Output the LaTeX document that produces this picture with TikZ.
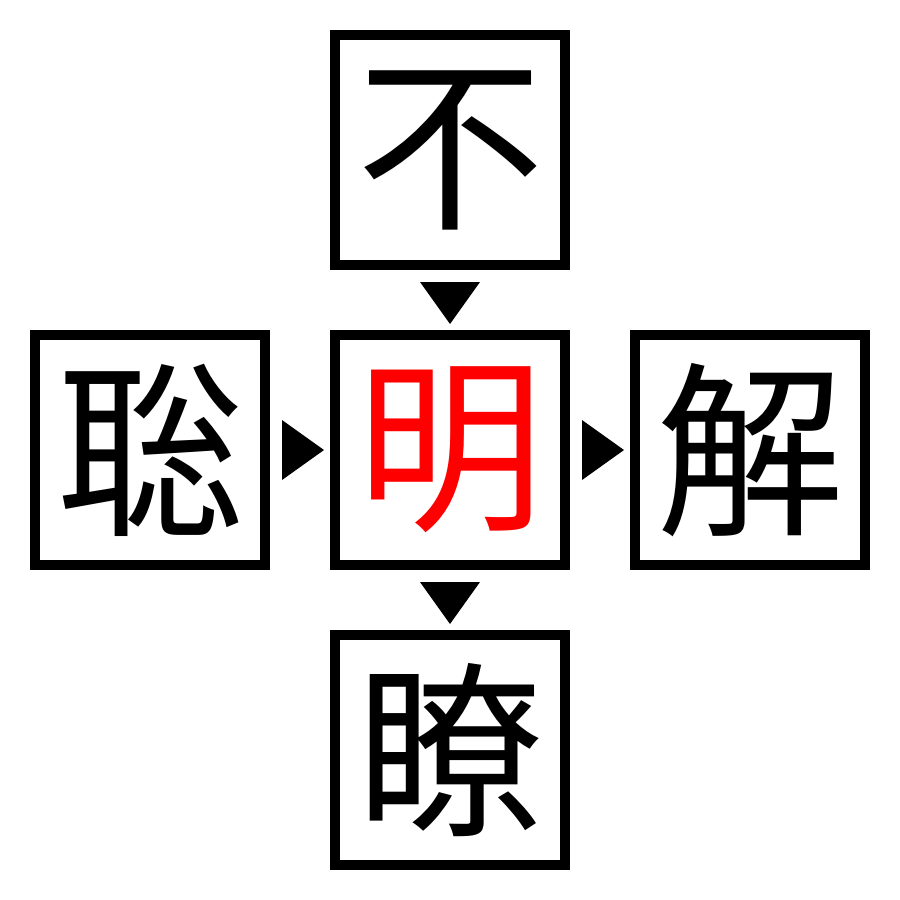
\documentclass[tikz,border=0pt]{standalone}
\usepackage{fontspec}
\usepackage{xcolor}
\usepackage{tikz}
\usetikzlibrary{positioning,calc}
\newfontfamily\cjk{Noto Sans CJK JP}

\begin{document}
\begin{tikzpicture}[x=1pt, y=1pt]
    \tikzstyle{cell} = [rectangle, draw, line width=10pt, fill=white, inner sep=0pt, minimum size=230pt, font=\cjk\fontsize{188}{188}\selectfont]
    \tikzstyle{tri} = [fill=black]
    \useasboundingbox (0,0) rectangle (900,-900);
    \node[cell, text=red] (mid) at (450,-450) {明};
    \node[cell, above=60pt of mid] (top) {不};
    \node[cell, below=60pt of mid] (bottom) {瞭};
    \node[cell, left=60pt of mid] (left) {聡};
    \node[cell, right=60pt of mid] (right) {解};
    % pointers
    \fill[tri] ($(mid.north)+(-30,48)$) -- ($(mid.north)+(30,48)$) -- ($(mid.north)+(0,6)$) -- cycle;
    \fill[tri] ($(bottom.north)+(-30,48)$) -- ($(bottom.north)+(30,48)$) -- ($(bottom.north)+(0,6)$) -- cycle;
    \fill[tri] ($(mid.west)+(-48,30)$) -- ($(mid.west)+(-48,-30)$) -- ($(mid.west)+(-6,0)$) -- cycle;
    \fill[tri] ($(right.west)+(-48,30)$) -- ($(right.west)+(-48,-30)$) -- ($(right.west)+(-6,0)$) -- cycle;
\end{tikzpicture}
\end{document}
